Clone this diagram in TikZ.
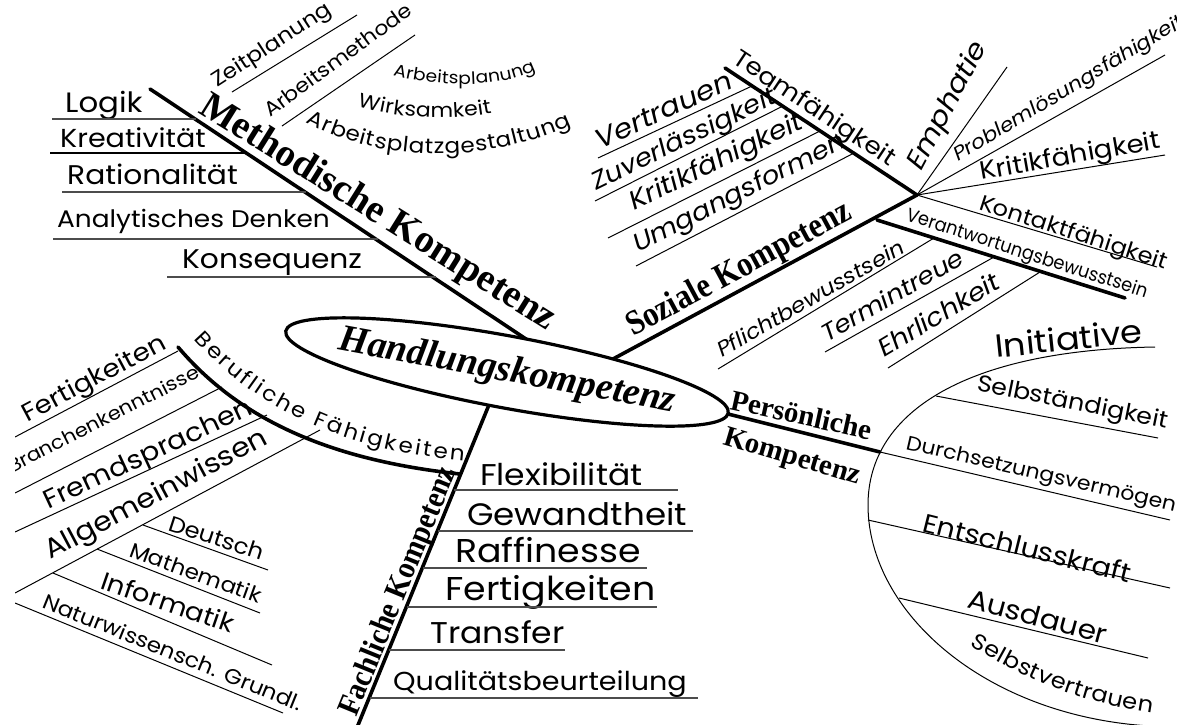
\documentclass[tikz,border=0pt]{standalone}
\usepackage{fontspec}
\usepackage{graphicx}
\setmainfont{Liberation Serif}
\newfontfamily\labelsf{Poppins}[FakeStretch=1.1]
\usetikzlibrary{shapes,decorations.text}

\tikzstyle{branch} = [line width=3.6pt, line cap=round]
\tikzstyle{uline} = [line width=1.5pt, black!70]
\tikzstyle{tline} = [line width=1pt]
\tikzset{
  lbl/.style={font=\labelsf\fontsize{#1}{#1}\selectfont, inner sep=0pt, anchor=base west},
  lbl/.default=24,
  ilbl/.style={font=\labelsf\itshape\fontsize{#1}{#1}\selectfont, inner sep=0pt, anchor=base west},
  ilbl/.default=24,
  head/.style={font=\bfseries\fontsize{#1}{#1}\selectfont, inner sep=0pt, anchor=base west},
  head/.default=30,
  ptext/.style 2 args={decorate, decoration={text along path,
    text={|\labelsf\fontsize{#1}{#1}\selectfont|#2}, text align={fit to path}}},
}

\begin{document}
\begin{tikzpicture}[x=1pt, y=-1pt]
\useasboundingbox (0,0) rectangle (1177,724);
\clip (15,0) rectangle (1177,724);

% main branches
\coordinate (methEnd) at (150,89);
\coordinate (methRoot) at (535,345);
\coordinate (sozRoot) at (600,366);
\coordinate (sozJ) at (917,195);
\coordinate (teamEnd) at (725,68);
\coordinate (verA) at (877,220);
\coordinate (verB) at (1125,298);
\coordinate (persRoot) at (712,410);
\coordinate (persEnd) at (880,452);
\coordinate (fachRoot) at (493,395);
\coordinate (fachEnd) at (356,730);
\coordinate (berA) at (178,347);
\coordinate (berB) at (460,474);

\draw[branch] (methEnd) -- (methRoot);
\draw[branch] (sozRoot) -- (sozJ);
\draw[branch] (teamEnd) -- (sozJ);
\draw[branch] (verA) -- (verB);
\draw[branch] (persRoot) -- (persEnd);
\draw[branch] (fachRoot) -- (fachEnd);
\draw[branch] (berA) .. controls (240,420) and (330,460) .. (berB);

% centre
\node[ellipse, draw, line width=3.2pt, fill=white, rotate=-10.5, minimum width=450,
  minimum height=72, inner sep=0pt] (hand) at (507,372) {};
\node[font=\bfseries\itshape\fontsize{38}{38}\selectfont, rotate=-10.5] (handLbl)
  at (hand.center) {Handlungskompetenz};

% Methodische Kompetenz
\node[head=39, rotate=-32] (methLbl) at (197,112) {Methodische Kompetenz};
\node[lbl=28] (logik) at (65,112) {Logik};
\node[lbl=26] (kreat) at (60,147) {Kreativität};
\node[lbl=27] (ratio) at (67,184) {Rationalität};
\node[lbl=24] (analyt) at (57,227) {Analytisches Denken};
\node[lbl=27] (konseq) at (182,268) {Konsequenz};
\coordinate (logikA) at (52,119);   \coordinate (logikB) at (196,119);
\coordinate (kreatA) at (50,153);   \coordinate (kreatB) at (247,153);
\coordinate (ratioA) at (62,192);   \coordinate (ratioB) at (306,192);
\coordinate (analytA) at (53,239);  \coordinate (analytB) at (378,239);
\coordinate (konseqA) at (167,277); \coordinate (konseqB) at (436,277);
\draw[uline] (logikA) -- (logikB);
\draw[uline, black] (kreatA) -- (kreatB);
\draw[uline] (ratioA) -- (ratioB);
\draw[uline] (analytA) -- (analytB);
\draw[uline] (konseqA) -- (konseqB);

\node[lbl=21, rotate=33] (zeit) at (217,88) {Zeitplanung};
\node[lbl=20, rotate=36] (amethode) at (270,118) {Arbeitsmethode};
\coordinate (zeitA) at (232,92); \coordinate (zeitB) at (357,15);
\coordinate (amA) at (282,126);  \coordinate (amB) at (415,35);
\draw[tline] (zeitA) -- (zeitB);
\draw[tline] (amA) -- (amB);
\path[ptext={17}{Arbeitsplanung}] (393,75) .. controls (440,88) and (500,88) .. (536,70);
\path[ptext={20}{Wirksamkeit}] (358,106) .. controls (400,119) and (450,121) .. (492,113);
\path[ptext={21}{Arbeitsplatzgestaltung}] (306,122) .. controls (380,162) and (480,166) .. (572,125);

% Soziale Kompetenz
\node[head=35, rotate=28.3] (sozLbl) at (633,337) {\scalebox{.88}[1]{Soziale Kompetenz}};
\node[lbl=24, rotate=-33.5] (team) at (731,62) {Teamfähigkeit};
\node[ilbl=27, rotate=25] (vertr) at (600,150) {Vertrauen};
\node[ilbl=25, rotate=26] (zuverl) at (596,191) {Zuverlässigkeit};
\node[ilbl=26, rotate=26] (kritL) at (634,211) {Kritikfähigkeit};
\node[ilbl=25, rotate=27] (umg) at (638,253) {Umgangsformen};
\coordinate (vertrA) at (598,158); \coordinate (vertrB) at (752,86);
\coordinate (zuvA) at (595,201);   \coordinate (zuvB) at (783,106);
\coordinate (kritLA) at (608,238); \coordinate (kritLB) at (820,131);
\coordinate (umgA) at (636,266);   \coordinate (umgB) at (854,153);
\draw[tline] (vertrA) -- (vertrB);
\draw[tline] (zuvA) -- (zuvB);
\draw[tline] (kritLA) -- (kritLB);
\draw[tline] (umgA) -- (umgB);

\coordinate (emphB) at (1007,67);
\coordinate (probB) at (1165,55);
\coordinate (kritRB) at (1165,155);
\coordinate (kontB) at (1157,267);
\draw[tline] (sozJ) -- (emphB);
\draw[tline] (sozJ) -- (probB);
\draw[tline] (sozJ) -- (kritRB);
\draw[tline] (sozJ) -- (kontB);
\node[ilbl=27, rotate=62] (emph) at (921,172) {Emphatie};
\node[ilbl=19.5, rotate=31] (probl) at (958,162) {Problemlösungsfähigkeit};
\node[lbl=25, rotate=10] (kritR) at (981,180) {Kritikfähigkeit};
\node[lbl=22, rotate=-18] (kontakt) at (978,209) {Kontaktfähigkeit};
\node[lbl=19, rotate=-18] (verant) at (905,220) {\scalebox{.85}[1]{Verantwortungsbewusstsein}};

\node[ilbl=21, rotate=30] (pflicht) at (722,358) {Pflichtbewusstsein};
\node[ilbl=24, rotate=30] (termin) at (827,343) {Termintreue};
\node[ilbl=25, rotate=31] (ehrl) at (884,358) {Ehrlichkeit};
\coordinate (pflA) at (718,369); \coordinate (pflB) at (934,238);
\coordinate (terA) at (825,352); \coordinate (terB) at (994,257);
\coordinate (ehrA) at (888,368); \coordinate (ehrB) at (1040,272);
\draw[tline] (pflA) -- (pflB);
\draw[tline] (terA) -- (terB);
\draw[tline] (ehrA) -- (ehrB);

% Persoenliche Kompetenz
\node[head=29, rotate=-12.4] (persLbl) at (729,409) {Persönliche};
\node[head=29, rotate=-16.5] (persLbl2) at (722,444) {Kompetenz};
\coordinate (arcTop) at (1155,347);
\coordinate (arcMid) at (868,505);
\coordinate (arcBot) at (1150,726);
\draw[tline] (arcTop) .. controls (970,350) and (868,410) .. (arcMid)
  .. controls (868,612) and (985,716) .. (arcBot);
\node[lbl=32, rotate=6] (initiative) at (996,358) {Initiative};
\node[lbl=23, rotate=-11.5] (selbst) at (976,390) {Selbständigkeit};
\node[lbl=20, rotate=-13] (durch) at (905,449) {Durchsetzungsvermögen};
\node[lbl=26, rotate=-14] (entschl) at (921,531) {Entschlusskraft};
\node[lbl=27, rotate=-15] (ausd) at (966,607) {Ausdauer};
\path[ptext={22}{Selbstvertrauen}] (970,645) .. controls (1030,682) and (1080,702) .. (1152,713);
\coordinate (sbA) at (936,396); \coordinate (sbB) at (1158,438);
\coordinate (duB) at (1170,520);
\coordinate (enA) at (868,520); \coordinate (enB) at (1170,588);
\coordinate (auA) at (899,598); \coordinate (auB) at (1148,658);
\draw[tline] (sbA) -- (sbB);
\draw[tline] (persEnd) -- (duB);
\draw[tline] (enA) -- (enB);
\draw[tline] (auA) -- (auB);

% Fachliche Kompetenz
\node[head=32, rotate=67.8] (fachLbl) at (356,718) {\scalebox{.9}[1]{Fachliche Kompetenz}};
\node[lbl=30] (flex) at (480,485) {Flexibilität};
\node[lbl=31] (gew) at (467,525) {Gewandtheit};
\node[lbl=33] (raff) at (455,562) {Raffinesse};
\node[lbl=33] (fert) at (445,600) {Fertigkeiten};
\node[lbl=30] (transf) at (430,643) {Transfer};
\node[lbl=26] (quali) at (393,690) {Qualitätsbeurteilung};
\coordinate (flA) at (454,490); \coordinate (flB) at (678,490);
\coordinate (gwA) at (438,531); \coordinate (gwB) at (693,531);
\coordinate (raA) at (423,568); \coordinate (raB) at (647,568);
\coordinate (feA) at (407,607); \coordinate (feB) at (657,607);
\coordinate (trA) at (389,650); \coordinate (trB) at (565,650);
\coordinate (quA) at (370,698); \coordinate (quB) at (698,698);
\draw[uline] (flA) -- (flB);
\draw[uline] (gwA) -- (gwB);
\draw[uline] (raA) -- (raB);
\draw[uline] (feA) -- (feB);
\draw[uline] (trA) -- (trB);
\draw[uline] (quA) -- (quB);

% Berufliche Faehigkeiten
\path[ptext={21}{Berufliche Fähigkeiten}] (194,339) .. controls (255,407) and (338,449) .. (464,461);
\node[lbl=25, rotate=28] (fertL) at (27,423) {Fertigkeiten};
\node[lbl=19, rotate=27, anchor=base east] (branchen) at (201,377) {Branchenkenntnisse};
\node[lbl=26, rotate=25] (fremd) at (48,510) {Fremdsprachen};
\node[lbl=27, rotate=28] (allg) at (50,560) {Allgemeinwissen};
\coordinate (fLA) at (15,437);  \coordinate (fLB) at (178,351);
\coordinate (brA) at (15,493);  \coordinate (brB) at (222,387);
\coordinate (frA) at (15,532);  \coordinate (frB) at (267,415);
\coordinate (allA) at (15,593); \coordinate (allB) at (320,430);
\draw[tline] (fLA) -- (fLB);
\draw[tline] (brA) -- (brB);
\draw[tline] (frA) -- (frB);
\draw[tline] (allA) -- (allB);

\node[lbl=22, rotate=-18] (deutsch) at (167,530) {Deutsch};
\node[lbl=21, rotate=-20] (mathe) at (128,556) {Mathematik};
\node[lbl=25, rotate=-19] (info) at (99,588) {Informatik};
\node[lbl=21, rotate=-22] (natur) at (41,607) {Naturwissensch. Grundl.};
\coordinate (deA) at (143,525); \coordinate (deB) at (268,570);
\coordinate (maA) at (97,549);  \coordinate (maB) at (260,613);
\coordinate (inA) at (53,573);  \coordinate (inB) at (272,665);
\coordinate (naA) at (15,603);  \coordinate (naB) at (283,713);
\draw[tline] (deA) -- (deB);
\draw[tline] (maA) -- (maB);
\draw[tline] (inA) -- (inB);
\draw[tline] (naA) -- (naB);

\end{tikzpicture}
\end{document}
